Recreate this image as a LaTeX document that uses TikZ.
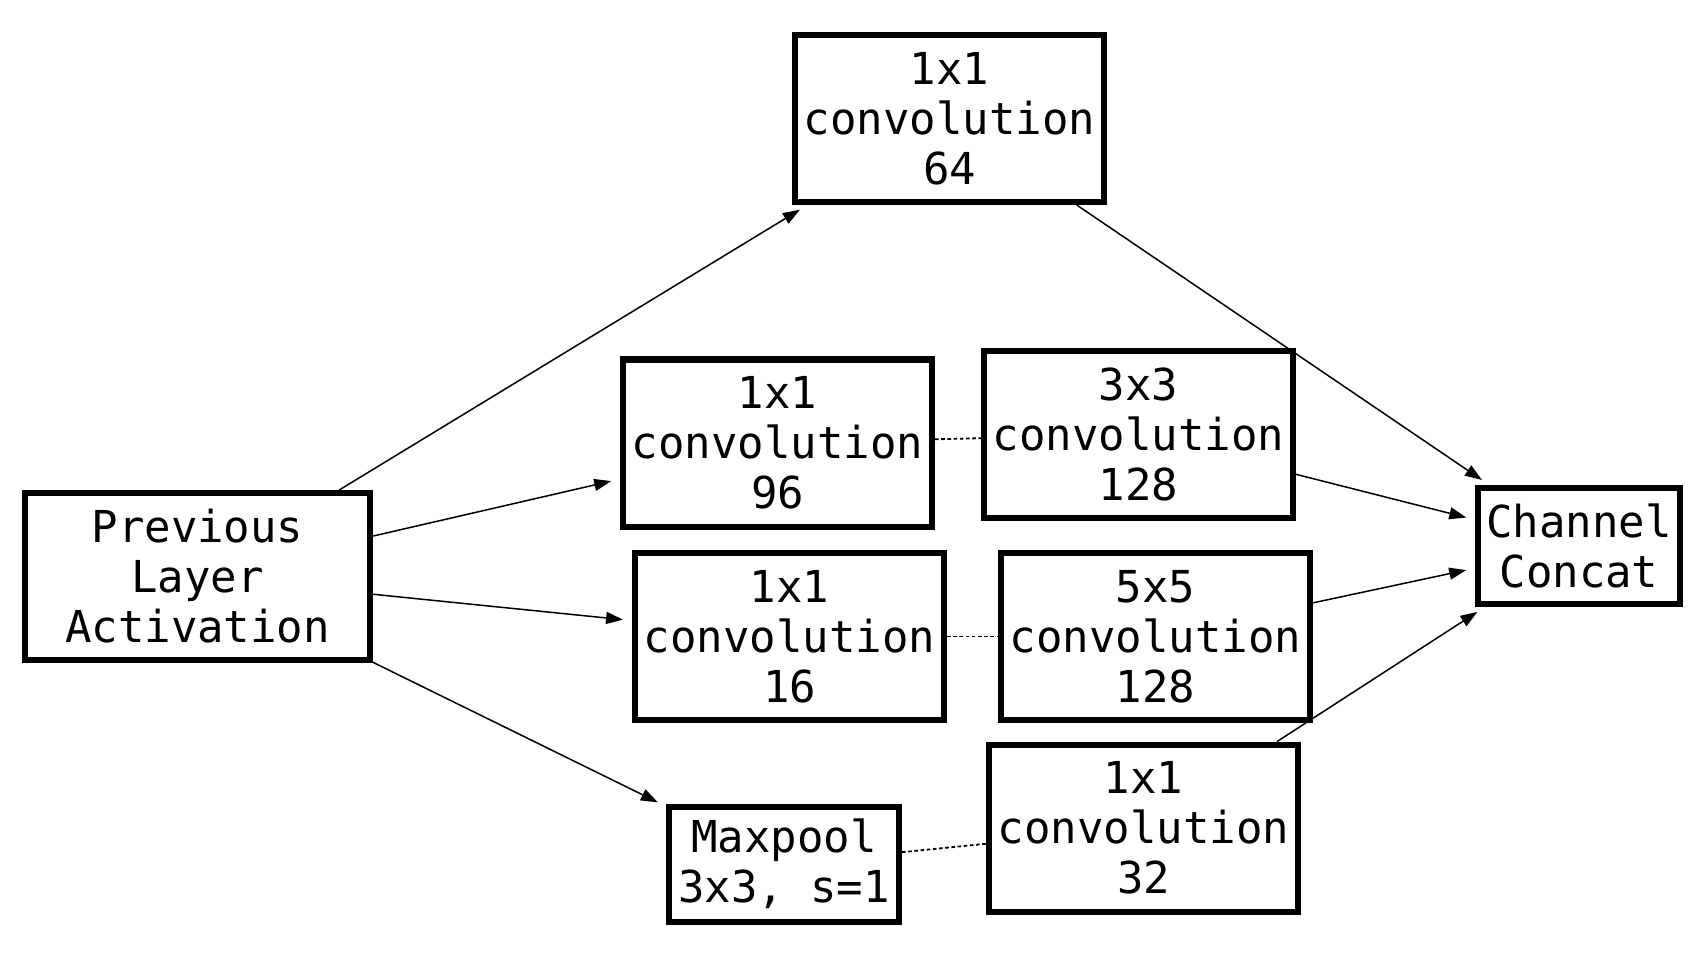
\documentclass[tikz,border=0pt]{standalone}
\usepackage{fontspec}
\setmonofont{DejaVu Sans Mono}
\usetikzlibrary{arrows.meta}
\begin{document}
\begin{tikzpicture}[x=0.5pt,y=-0.5pt,
  blk/.style={draw,line width=3pt,align=center,inner sep=0pt,font=\ttfamily\fontsize{22}{25}\selectfont},
  conv/.style={blk,minimum width=154.5pt,minimum height=83.5pt},
  arr/.style={line width=0.75pt,-{Triangle[length=8.5pt,width=6pt]},shorten >=4.5pt},
  dsh/.style={line width=0.9pt,dash pattern=on 1.8pt off 1.3pt}]
\useasboundingbox (0,0) rectangle (1706,962);
\node[conv] (top) at (949.5,118.5) {1x1\\convolution\\64};
\node[blk,minimum width=172.5pt,minimum height=83.5pt] (prev) at (197.5,576.5) {Previous\\Layer\\Activation};
\node[conv] (c96) at (777.5,443) {1x1\\convolution\\96};
\node[conv] (c33) at (1138.5,434.5) {3x3\\convolution\\128};
\node[conv] (c16) at (789.5,636.5) {1x1\\convolution\\16};
\node[conv] (c55) at (1155.5,636.5) {5x5\\convolution\\128};
\node[blk,minimum width=115pt,minimum height=57.5pt] (maxp) at (784,864) {Maxpool\\3x3, s=1};
\node[conv] (c32) at (1143.5,828) {1x1\\convolution\\32};
\node[blk,minimum width=101pt,minimum height=58pt] (cat) at (1579,546) {Channel\\Concat};
\draw[arr] (prev) -- (top);
\draw[arr] (prev) -- (c96);
\draw[arr] (prev) -- (c16);
\draw[arr] (prev) -- (maxp);
\draw[arr] (top) -- (cat);
\draw[arr] (c33) -- (cat);
\draw[arr] (c55) -- (cat);
\draw[arr] (c32) -- (cat);
\draw[dsh] (c96) -- (c33);
\draw[dsh] (c16) -- (c55);
\draw[dsh] (maxp) -- (c32);
\end{tikzpicture}
\end{document}
